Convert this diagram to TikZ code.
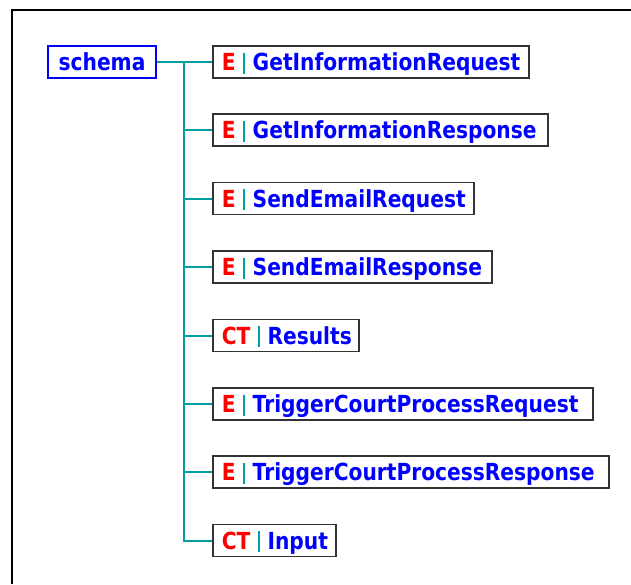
\documentclass[tikz,border=0pt]{standalone}
\usepackage{fontspec}
\newfontfamily\xsdfont{DejaVu Sans}[FakeStretch=0.86]
\definecolor{treeline}{RGB}{0,160,160}
\definecolor{kindred}{RGB}{255,0,0}
\definecolor{nameblue}{RGB}{0,0,255}
\newcommand{\entry}[2]{\mbox{\textcolor{kindred}{#1}\hspace{7pt}\textcolor{treeline}{\rule[-3pt]{2pt}{21pt}}\hspace{8pt}#2}}
\begin{document}
\begin{tikzpicture}[x=1pt, y=1pt,
    root/.style={draw=nameblue, line width=2.8pt, minimum width=108, minimum height=32, inner sep=0pt,
        text height=19.5pt, text depth=2.5pt,
        font=\xsdfont\bfseries\fontsize{23.5}{28}\selectfont, text=nameblue},
    elem/.style={draw=black!80, line width=1.8pt, anchor=west, minimum height=32, inner xsep=9pt, inner ysep=0pt,
        text height=19.5pt, text depth=2.5pt,
        align=left, font=\xsdfont\bfseries\fontsize{23.5}{28}\selectfont, text=nameblue},
    tree/.style={treeline, line width=2pt}]
    \useasboundingbox (0,0) rectangle (631,-584);
    \fill[white] (0,0) rectangle (631,-584);
    % frame
    \draw[line width=2pt] (12,-584) -- (12,-10) -- (631,-10);

    \node[root] (schema) at (102,-62) {schema};
    \node[elem, text width=298] (GIreq) at (212,-62) {\entry{E}{GetInformationRequest}};
    \node[elem, text width=317] (GIresp) at (212,-130) {\entry{E}{GetInformationResponse}};
    \node[elem, text width=243] (SEreq) at (212,-198.5) {\entry{E}{SendEmailRequest}};
    \node[elem, text width=261] (SEresp) at (212,-267) {\entry{E}{SendEmailResponse}};
    \node[elem, text width=128] (results) at (212,-335.5) {\entry{CT}{Results}};
    \node[elem, text width=362] (TCreq) at (212,-404) {\entry{E}{TriggerCourtProcessRequest}};
    \node[elem, text width=378] (TCresp) at (212,-472) {\entry{E}{TriggerCourtProcessResponse}};
    \node[elem, text width=105] (input) at (212,-540.5) {\entry{CT}{Input}};

    % tree lines
    \coordinate (trunk) at (184,-62);
    \draw[tree] (schema) -- (GIreq);
    \draw[tree] (trunk) |- (input.west);
    \foreach \n in {GIresp, SEreq, SEresp, results, TCreq, TCresp}
        \draw[tree] (trunk |- \n.west) -- (\n.west);
\end{tikzpicture}
\end{document}
